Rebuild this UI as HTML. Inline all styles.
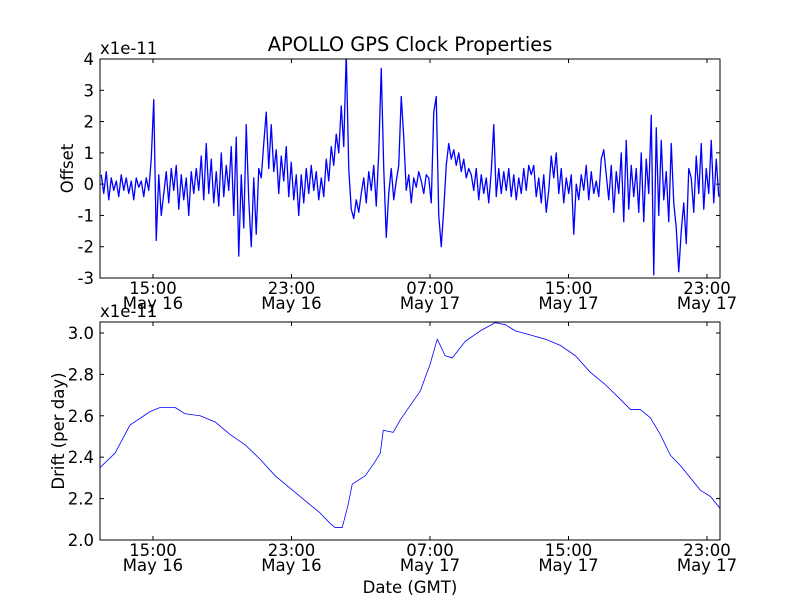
<!DOCTYPE html>
<html><head><meta charset="utf-8"><style>
body{margin:0;background:#fff}
svg{display:block;font-family:"DejaVu Sans","Liberation Sans",sans-serif}
</style></head><body>
<svg id="chart" width="800" height="600" viewBox="0 0 800 600" xmlns="http://www.w3.org/2000/svg">
<rect width="800" height="600" fill="#fff"/>
<text x="410" y="51" font-size="19.4" text-anchor="middle">APOLLO GPS Clock Properties</text>
<g id="top"></g>
<g id="bot"></g>
</svg>
<script>
// hours since May 16 00:00
const xDomain = [11.94, 47.75];
const xTickHours = [15, 23, 31, 39, 47];
const xTickTimes = ["15:00", "23:00", "07:00", "15:00", "23:00"];
const xTickDates = ["May 16", "May 16", "May 17", "May 17", "May 17"];
const offsetTicks = [-3, -2, -1, 0, 1, 2, 3, 4];
const driftTicks = [2.0, 2.2, 2.4, 2.6, 2.8, 3.0];
const driftTickLabels = ["2.0", "2.2", "2.4", "2.6", "2.8", "3.0"];
const offsetValues = [
0.3,-0.3,0.4,-0.5,0.2,-0.2,0.1,-0.4,0.3,-0.2,0.2,-0.3,0.1,-0.5,0.2,-0.1,0.1,-0.4,0.2,-0.2,
0.8,2.7,-1.8,0.3,-1.0,
-0.3,0.4,-0.6,0.5,-0.2,0.6,-0.8,0.3,-0.5,0.2,-1.0,0.4,-0.3,0.5,-0.2,
0.9,-0.5,1.3,-0.3,0.8,-0.6,0.4,-0.7,1.0,-0.4,0.6,-0.2,
1.2,-1.0,1.5,-2.3,0.3,-1.4,1.9,-0.5,-2.0,0.2,-1.6,0.5,
0.2,1.3,2.3,0.5,1.9,0.4,1.1,-0.3,0.9,0.1,1.2,-0.4,0.7,-0.5,0.3,-1.0,
0.3,-0.6,0.5,-0.3,0.6,-0.2,0.4,-0.5,0.2,-0.4,0.8,0.1,1.2,0.6,1.6,
1.0,2.5,1.2,4.2,0.5,-0.8,-1.1,-0.5,-0.9,
-0.3,0.2,-0.6,0.4,-0.2,0.6,-0.7,1.0,3.7,0.5,-1.7,-0.3,0.5,-0.5,0.1,0.6,2.8,1.5,-0.2,0.3,-0.6,0.2,-0.1,0.4,
0.1,-0.3,0.3,0.2,-0.6,2.3,2.8,-1.0,-2.0,-0.8,
0.6,1.3,0.8,1.1,0.6,1.0,0.4,0.8,0.2,0.5,
0.3,-0.2,0.5,-0.5,0.3,-0.3,0.2,-0.6,0.4,1.9,-0.4,0.5,-0.3,0.4,-0.2,0.5,-0.4,0.3,-0.5,0.2,-0.3,0.5,-0.2,0.6,0.3,0.6,-0.4,0.2,
-0.6,0.3,-0.9,-0.2,0.9,0.2,1.0,-0.3,0.5,-0.6,0.2,-0.3,0.3,-1.6,0.0,-0.5,0.3,-0.2,0.6,-0.5,0.4,-0.3,0.1,-0.4,
0.8,1.1,0.3,-0.5,0.6,-0.9,0.4,-0.3,1.0,-1.2,1.4,-0.8,0.6,-0.4,0.5,-0.9,
1.0,-1.2,0.8,-0.3,2.2,-2.9,1.8,-1.0,1.4,-0.5,0.4,-1.2,1.3,-0.6,-1.4,-2.8,-1.5,-0.6,-1.9,0.5,
0.2,-0.9,0.9,-0.3,1.3,-0.8,0.5,-0.3,1.4,-0.6,0.8,-0.4
];
const driftHours = [11.94,12.81,13.67,14.83,15.41,16.28,16.85,17.72,18.59,19.45,20.32,21.19,22.06,22.92,23.79,24.66,25.23,25.52,25.93,26.27,26.51,27.26,27.84,28.13,28.30,28.88,29.28,29.86,30.44,31.01,31.42,31.88,32.29,33.04,33.9,34.77,35.35,35.93,36.8,37.66,38.53,39.4,40.26,41.13,41.99,42.58,43.15,43.73,44.3,44.88,45.46,46.04,46.62,47.2,47.78];
const driftValues = [2.35,2.42,2.555,2.62,2.64,2.64,2.61,2.60,2.57,2.51,2.46,2.39,2.31,2.25,2.19,2.13,2.08,2.06,2.06,2.17,2.27,2.31,2.38,2.42,2.53,2.52,2.58,2.65,2.72,2.85,2.97,2.89,2.88,2.96,3.01,3.05,3.04,3.01,2.99,2.97,2.94,2.89,2.81,2.75,2.68,2.63,2.63,2.59,2.51,2.41,2.36,2.30,2.24,2.21,2.15];

const NS = "http://www.w3.org/2000/svg";
const L = 100, R = 720;
const FS = "16.5";
function xScale(h){ return L + (h - xDomain[0]) / (xDomain[1] - xDomain[0]) * (R - L); }
function mk(tag, attrs, parent){ const e = document.createElementNS(NS, tag); for (const k in attrs) e.setAttribute(k, attrs[k]); parent.appendChild(e); return e; }

function drawAxes(g, top, bottom, yMin, yMax, yTicks, yLabels, prefix){
  const ys = v => bottom - (v - yMin) / (yMax - yMin) * (bottom - top);
  xTickHours.forEach((h, i) => {
    const x = xScale(h);
    const t1 = mk("line", {x1:x, x2:x, y1:bottom, y2:bottom-4, stroke:"#000"}, g);
    
    
    const t2 = mk("line", {x1:x, x2:x, y1:top, y2:top+4, stroke:"#000"}, g);
    
    
    const a = mk("text", {x:x, y:bottom+16, "font-size":FS, "text-anchor":"middle"}, g);
    a.textContent = xTickTimes[i];
    
    
    const b = mk("text", {x:x, y:bottom+31, "font-size":FS, "text-anchor":"middle"}, g);
    b.textContent = xTickDates[i];
    
    
  });
  yTicks.forEach((v, i) => {
    const y = ys(v);
    const t1 = mk("line", {x1:L, x2:L+4, y1:y, y2:y, stroke:"#000"}, g);
    
    
    const t2 = mk("line", {x1:R, x2:R-4, y1:y, y2:y, stroke:"#000"}, g);
    
    
    const t = mk("text", {x:L-6, y:y+6, "font-size":FS, "text-anchor":"end"}, g);
    t.textContent = yLabels[i];
    
    
  });
  return ys;
}

function drawPanel(id, top, bottom, yMin, yMax, yTicks, yLabels, hours, vals, lw, ylabel, ylx, prefix){
  const g = document.getElementById(id);
  
  
  const clipId = id + "clip";
  const cp = mk("clipPath", {id: clipId}, g);
  mk("rect", {x:L, y:top, width:R-L, height:bottom-top}, cp);
  const ys = drawAxes(g, top, bottom, yMin, yMax, yTicks, yLabels, prefix);
  const pts = vals.map((v, i) => xScale(hours[i]).toFixed(2) + "," + ys(v).toFixed(2)).join(" ");
  const line = mk("polyline", {points:pts, fill:"none", stroke:"#0000ff", "stroke-width":lw, "stroke-linejoin":"round", "clip-path":"url(#"+clipId+")"}, g);
  
  
  const frame = mk("rect", {x:L, y:top, width:R-L, height:bottom-top, fill:"none", stroke:"#000", "stroke-width":"1"}, g);
  
  
  const mult = mk("text", {x:L, y:top-5, "font-size":FS}, g);
  mult.textContent = "x1e-11";
  
  
  const yl = mk("text", {x:ylx, y:(top+bottom)/2, "font-size":FS, "text-anchor":"middle", transform:"rotate(-90 "+ylx+" "+((top+bottom)/2)+")"}, g);
  yl.textContent = ylabel;
  
  
}

const offsetHours = offsetValues.map((v, i) => xDomain[0] + (i + 0.5) * (xDomain[1] - xDomain[0]) / offsetValues.length);
drawPanel("top", 59, 278, -3, 4, offsetTicks, offsetTicks.map(String), offsetHours, offsetValues, 1.3, "Offset", 73, "offset");
drawPanel("bot", 322, 540, 2.0, 3.053, driftTicks, driftTickLabels, driftHours, driftValues, 0.8, "Drift (per day)", 64, "drift");

const svg = document.getElementById("chart");
const xl = mk("text", {x:410, y:593, "font-size":FS, "text-anchor":"middle"}, svg);
xl.textContent = "Date (GMT)";


</script>
</body></html>
